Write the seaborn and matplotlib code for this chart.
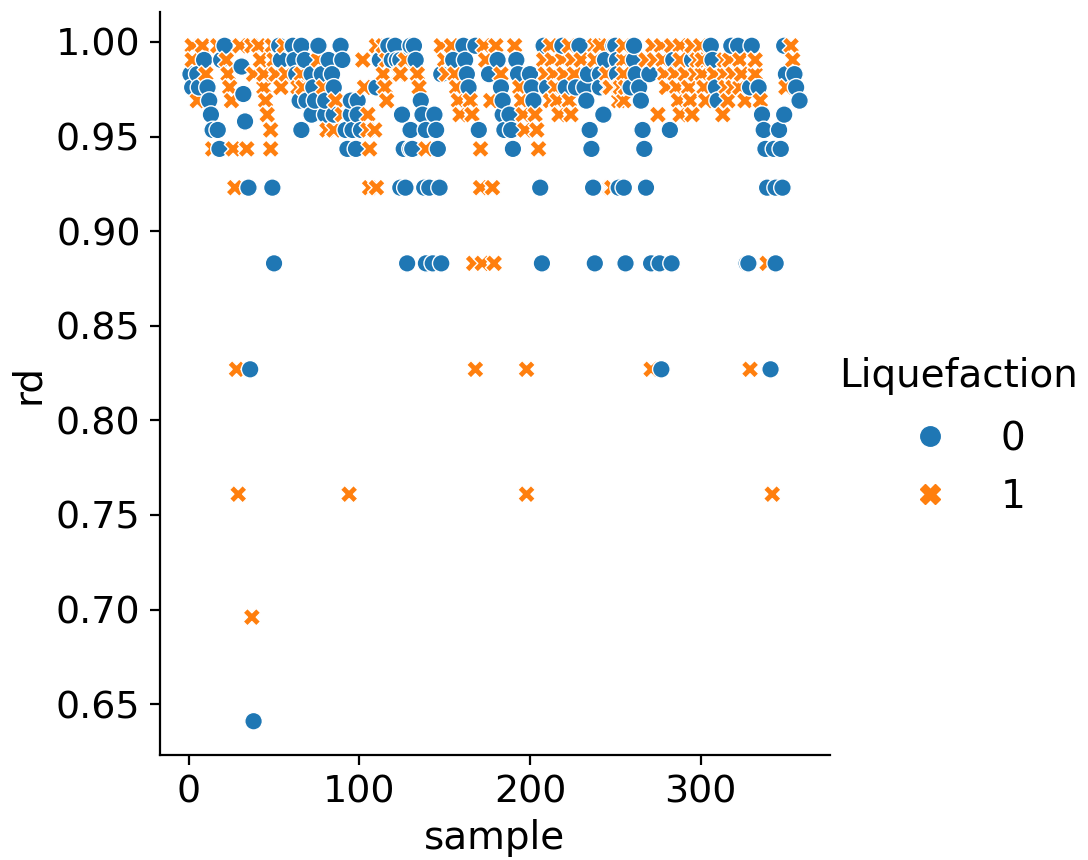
import pandas as pd
import seaborn as sns
import matplotlib
matplotlib.use("Agg")
import matplotlib.pyplot as plt

# rd levels, with the samples found on each one
rd_levels = [0.998, 0.9905, 0.983, 0.976, 0.969, 0.9616, 0.9535, 0.9435, 0.923,
             0.883, 0.827, 0.761, 0.696, 0.641, 0.987, 0.9725, 0.958]

no_liq = [
    [21, 53, 61, 66, 76, 89, 117, 121, 130, 132, 161, 168, 208, 219, 229, 249, 250, 261, 306, 318, 322, 330, 349],
    [9, 19, 54, 62, 68, 82, 90, 112, 119, 122, 124, 133, 155, 162, 181, 192, 244, 251, 261, 284, 295, 307],
    [1, 5, 63, 72, 78, 84, 148, 163, 176, 193, 200, 234, 241, 251, 262, 270, 350, 355],
    [2, 6, 11, 73, 85, 110, 164, 183, 201, 210, 221, 227, 232, 241, 259, 264, 309, 329, 334, 356],
    [12, 65, 69, 74, 80, 95, 99, 136, 184, 202, 233, 265, 310, 358],
    [13, 72, 80, 85, 95, 99, 125, 137, 144, 184, 188, 243, 336, 349],
    [14, 17, 66, 92, 96, 101, 130, 139, 145, 170, 185, 189, 235, 266, 282, 337, 346],
    [18, 93, 98, 126, 130, 131, 146, 190, 236, 267, 338, 343, 347],
    [35, 49, 124, 127, 138, 141, 147, 206, 237, 252, 255, 268, 339, 344, 348],
    [50, 128, 139, 143, 148, 207, 238, 256, 271, 276, 283, 327, 328, 344],
    [36, 277, 341],
    [],
    [],
    [38],
    [31],
    [32],
    [33],
]

liq = [
    [2, 8, 17, 30, 37, 41, 49, 56, 110, 114, 148, 154, 173, 180, 191, 212, 223, 238, 241, 255, 272, 277, 283, 288, 295, 300, 353],
    [2, 22, 42, 50, 76, 102, 116, 127, 150, 174, 208, 213, 219, 225, 230, 238, 255, 268, 273, 278, 288, 298, 301, 314, 317, 323, 332, 354],
    [10, 23, 38, 44, 51, 57, 66, 114, 123, 124, 134, 151, 156, 183, 209, 214, 220, 226, 245, 255, 279, 285, 291, 297, 301, 308, 314, 319, 324, 332],
    [24, 44, 54, 64, 67, 79, 103, 115, 135, 157, 194, 215, 246, 247, 252, 253, 256, 280, 286, 293, 302, 315, 319, 323, 350],
    [5, 25, 45, 86, 116, 158, 165, 177, 195, 212, 216, 223, 252, 255, 287, 294, 303, 316, 326, 335],
    [46, 90, 105, 159, 166, 196, 203, 217, 224, 275, 288, 295, 313],
    [48, 81, 85, 105, 109, 197, 204],
    [14, 26, 34, 48, 106, 139, 171, 205],
    [27, 106, 110, 171, 178, 247, 248],
    [167, 172, 179, 339],
    [28, 168, 198, 271, 329],
    [29, 94, 198, 342],
    [37],
    [],
    [],
    [],
    [],
]

rows = []
for level, s0, s1 in zip(rd_levels, no_liq, liq):
    for s in s0:
        rows.append((s, level, 0))
    for s in s1:
        rows.append((s, level, 1))
df = pd.DataFrame(rows, columns=["sample", "rd", "Liquefaction"]).sort_values("sample")

plt.rcParams["font.size"] = 14
plt.rcParams["axes.labelsize"] = 14
plt.rcParams["axes.labelpad"] = 3
plt.rcParams["xtick.labelsize"] = 13.7
plt.rcParams["ytick.labelsize"] = 13.7
plt.rcParams["legend.fontsize"] = 14
plt.rcParams["legend.title_fontsize"] = 14

g = sns.relplot(data=df, x="sample", y="rd", hue="Liquefaction", style="Liquefaction", kind="scatter",
                s=40, linewidth=0.5)
g.fig.set_size_inches(5.44, 4.30)
g.fig.subplots_adjust(left=160 / 1088, right=830 / 1088, top=1 - 12 / 860, bottom=1 - 755 / 860)
sns.move_legend(g, loc="center left", bbox_to_anchor=(804 / 1088, 1 - 436 / 860), frameon=False)
g.legend._legend_box.sep = g.legend._legend_box.sep + 2.2
for h in g.legend.legend_handles:
    h.set_markersize(7)

g.fig.savefig("out.png", dpi=200)
